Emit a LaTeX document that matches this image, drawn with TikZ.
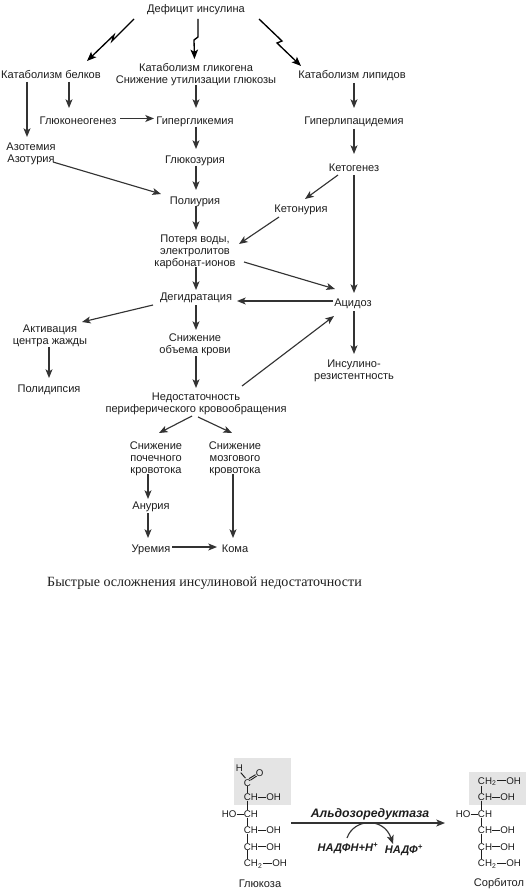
\documentclass[tikz,border=0pt]{standalone}
\usepackage{fontspec}
\setmainfont{Liberation Sans}
\newfontfamily\capfont{Liberation Serif}
\usetikzlibrary{arrows.meta}
\definecolor{ink}{HTML}{1E1E1E}
\definecolor{lineink}{HTML}{333333}
\definecolor{panel}{HTML}{E4E4E4}
\newcommand\conn[7][arr]{\draw[#1] ([shift={(#3,#4)}]#2.center) -- ([shift={(#6,#7)}]#5.center);}
\begin{document}
\begin{tikzpicture}[x=0.75pt,y=-0.75pt,
  lab/.style={inner sep=0pt,align=center,text=ink,font=\fontsize{8.3pt}{8.9pt}\selectfont,execute at begin node={\rule{0pt}{8pt}},execute at end node={\rule[-0.8pt]{0pt}{0.8pt}}},
  arr/.style={draw=lineink,line width=0.85pt,-{Stealth[length=6.5pt,width=5.2pt,inset=1.6pt]}},
  bolt/.style={draw=black,line width=1pt,line join=miter,-{Stealth[length=7pt,width=5.6pt,inset=1.6pt]}},
  chem/.style={inner sep=0pt,anchor=base west,text=ink,font=\fontsize{7.3pt}{9pt}\selectfont},
  enz/.style={inner sep=0pt,text=ink,font=\fontsize{8.3pt}{9pt}\selectfont\bfseries\itshape},
  bond/.style={draw=ink,line width=0.7pt}]
\useasboundingbox (0,0) rectangle (526,891);
\fill[white] (0,0) rectangle (526,891);
% main flowchart nodes
\node[lab] (def) at (196,8) {Дефицит инсулина};
\node[lab] (kb) at (51,74) {Катаболизм белков};
\node[lab] (kg) at (196,75) {Катаболизм гликогена\\Снижение утилизации глюкозы};
\node[lab] (kl) at (352,74) {Катаболизм липидов};
\node[lab] (gn) at (78,120) {Глюконеогенез};
\node[lab] (hg) at (195,120) {Гипергликемия};
\node[lab] (gl) at (354,120) {Гиперлипацидемия};
\node[lab] (az) at (31,154) {Азотемия\\Азотурия};
\node[lab] (gz) at (195,159) {Глюкозурия};
\node[lab] (ke) at (354,167) {Кетогенез};
\node[lab] (pu) at (195,200) {Полиурия};
\node[lab] (kn) at (301,208) {Кетонурия};
\node[lab] (pt) at (195,252) {Потеря воды,\\электролитов\\карбонат-ионов};
\node[lab] (dg) at (196,296) {Дегидратация};
\node[lab] (ac) at (353,302) {Ацидоз};
\node[lab] (sa) at (50,336) {Активация\\центра жажды};
\node[lab] (so) at (195,345) {Снижение\\объема крови};
\node[lab] (ins) at (354,371) {Инсулино-\\резистентность};
\node[lab] (pd) at (49,388) {Полидипсия};
\node[lab] (ne) at (196,404) {Недостаточность\\периферического кровообращения};
\node[lab] (sp) at (156,459) {Снижение\\почечного\\кровотока};
\node[lab] (sm) at (235,459) {Снижение\\мозгового\\кровотока};
\node[lab] (an) at (151,505) {Анурия};
\node[lab] (ur) at (151,548) {Уремия};
\node[lab] (ko) at (235,548) {Кома};
\node[inner sep=0pt,text=ink,font=\fontsize{10.55pt}{12pt}\selectfont\capfont] (cap) at (204.5,583) {Быстрые осложнения инсулиновой недостаточности};
% lightning arrows
\draw[bolt] ([shift={(-62,11)}]def.center) -- (112,41) -- (114,35) -- ([shift={(36,-13)}]kb.center);
\draw[bolt] ([shift={(2,11)}]def.center) -- (198,37) -- (194,40) -- ([shift={(-1.5,-16)}]kg.center);
\draw[bolt] ([shift={(63,11)}]def.center) -- (282,41) -- (277,43) -- ([shift={(-51,-8)}]kl.center);
% connectors
\conn{kb}{-24}{8}{az}{-4}{-17}
\conn{kb}{18}{8}{gn}{-9}{-12}
\conn{gn}{42}{-1.5}{hg}{-41}{-1.5}
\conn{kg}{0}{10}{hg}{1}{-12}
\conn{hg}{1}{7}{gz}{1}{-10}
\conn{gz}{1}{7}{pu}{1}{-10}
\conn{az}{22}{8}{pu}{-34}{-6}
\conn{pu}{1}{6}{pt}{1}{-22}
\conn{pt}{1}{15}{dg}{0}{-6}
\conn{dg}{0}{9}{so}{1}{-15}
\conn{so}{1}{11}{ne}{0}{-16}
\conn{ne}{-4}{12}{sp}{3}{-26}
\conn{ne}{2}{13}{sm}{-3}{-26}
\conn{sp}{-8}{15}{an}{-3}{-6}
\conn{an}{-3}{8}{ur}{-3}{-10}
\conn{ur}{21}{-1}{ko}{-18}{-1}
\conn{sm}{-2}{15}{ko}{-2}{-10}
\conn{dg}{-43}{9}{sa}{32}{-14}
\conn{sa}{-1}{11}{pd}{0}{-10}
\conn{kl}{2}{9}{gl}{0}{-12}
\conn{gl}{0}{9}{ke}{0}{-13}
\conn{ke}{-16}{8}{kn}{4}{-9}
\conn{kn}{-22}{9}{pt}{44}{-8}
\conn{ke}{0}{8}{ac}{1}{-9}
\conn{pt}{49}{10}{ac}{-18}{-13}
\conn{ac}{-20}{-1}{dg}{41}{5}
\conn{ne}{46}{-18}{ac}{-19}{14}
\conn{ac}{1}{9}{ins}{0}{-17}
% grey panels
\fill[panel] (234,758) rectangle (291,805);
\fill[panel] (469,772) rectangle (526,805);
% glucose
\node[chem] (gH) at (235.5,771.5) {H};
\node[chem] (gC) at (243.7,786) {C};
\node[chem] (gO) at (255.5,776.5) {O};
\node[chem] (g1) at (243.7,800.5) {CH};
\node[chem] (g1o) at (266,800.5) {OH};
\node[chem] (g2h) at (221.5,817.5) {HO};
\node[chem] (g2) at (243.7,817.5) {CH};
\node[chem] (g3) at (243.7,833.5) {CH};
\node[chem] (g3o) at (266,833.5) {OH};
\node[chem] (g4) at (243.7,850) {CH};
\node[chem] (g4o) at (266,850) {OH};
\node[chem] (g5) at (243.7,866.5) {CH\textsubscript{2}};
\node[chem] (g5o) at (272,866.5) {OH};
\draw[bond] ([shift={(1.5,4.5)}]gH.center) -- ([shift={(-2,-4.5)}]gC.center);
\draw[bond] ([shift={(1.5,-4)}]gC.center) -- ([shift={(-4,1.5)}]gO.center);
\draw[bond] ([shift={(3,-2.5)}]gC.center) -- ([shift={(-3,3)}]gO.center);
\foreach \a/\b in {gC/g1,g1/g2,g2/g3,g3/g4,g4/g5}{\draw[bond] ([xshift=2.6pt]\a.south west) -- ([xshift=2.6pt]\b.north west);}
\foreach \a/\b in {g1/g1o,g2h/g2,g3/g3o,g4/g4o,g5/g5o}{\draw[bond] (\a.east |- \b.west) -- (\b.west);}
% sorbitol
\node[chem] (s0) at (477.7,784) {CH\textsubscript{2}};
\node[chem] (s0o) at (506,784) {OH};
\node[chem] (s1) at (477.7,800.5) {CH};
\node[chem] (s1o) at (500,800.5) {OH};
\node[chem] (s2h) at (455.5,817.5) {HO};
\node[chem] (s2) at (477.7,817.5) {CH};
\node[chem] (s3) at (477.7,833.5) {CH};
\node[chem] (s3o) at (500,833.5) {OH};
\node[chem] (s4) at (477.7,850) {CH};
\node[chem] (s4o) at (500,850) {OH};
\node[chem] (s5) at (477.7,866.5) {CH\textsubscript{2}};
\node[chem] (s5o) at (506,866.5) {OH};
\foreach \a/\b in {s0/s1,s1/s2,s2/s3,s3/s4,s4/s5}{\draw[bond] ([xshift=2.6pt]\a.south west) -- ([xshift=2.6pt]\b.north west);}
\foreach \a/\b in {s0/s0o,s1/s1o,s2h/s2,s3/s3o,s4/s4o,s5/s5o}{\draw[bond] (\a.east |- \b.west) -- (\b.west);}
\node[inner sep=0pt,text=ink,font=\fontsize{8.3pt}{9pt}\selectfont] (glu) at (260,884) {Глюкоза};
\node[inner sep=0pt,text=ink,font=\fontsize{8.3pt}{9pt}\selectfont] (sor) at (499,884) {Сорбитол};
% reaction
\node[enz,font=\fontsize{9.2pt}{10pt}\selectfont\bfseries\itshape] (ald) at (370,814) {Альдозоредуктаза};
\node[enz] (nh) at (348,848) {НАДФН+Н\textsuperscript{+}};
\node[enz] (nf) at (404,850) {НАДФ\textsuperscript{+}};
\coordinate (rs) at (291,823);
\coordinate (re) at (445,823);
\draw[arr] (rs) -- (re);
\draw[draw=lineink,line width=0.85pt,-{Stealth[length=6.5pt,width=5.2pt,inset=1.6pt]}] ([shift={(-1,-10)}]nh.center) .. controls (354,818) and (384,817) .. ([shift={(-11,-6)}]nf.center);
\end{tikzpicture}
\end{document}
